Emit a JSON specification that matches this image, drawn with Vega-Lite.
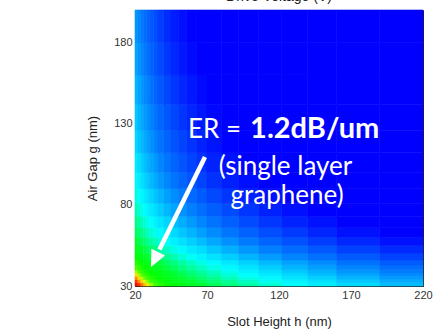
{
"$schema":"https://vega.github.io/schema/vega-lite/v6.json",
"width":288,"height":276,
"autosize":{"type":"none"},
"padding":{"left":135,"top":10,"right":11,"bottom":47},
"background":"white",
"title":{"text":"Drive Voltage (V)","font":"Liberation Sans","fontSize":14,"fontWeight":"normal","color":"#222","baseline":"alphabetic","offset":2,"dy":7},
"config":{"view":{"stroke":"#222","strokeWidth":1},
"axis":{"grid":false,"domain":false,"tickColor":"#222","tickSize":-4,"labelPadding":7,"labelFont":"Liberation Sans","labelFontSize":11,"labelColor":"#333","titleFont":"Liberation Sans","titleFontSize":13,"titleFontWeight":"normal","titleColor":"#222","labelFlush":false,"labelOverlap":false,"labelBound":false}},
"layer":[
{"data":{"values":[
{"h":20,"h2":22,"g":30,"g2":32,"v":9.41},{"h":22,"h2":24,"g":30,"g2":32,"v":8.92},{"h":24,"h2":26,"g":30,"g2":32,"v":8.49},{"h":26,"h2":28,"g":30,"g2":32,"v":8.11},{"h":28,"h2":30,"g":30,"g2":32,"v":7.77},{"h":30,"h2":33,"g":30,"g2":32,"v":7.41},{"h":33,"h2":36,"g":30,"g2":32,"v":7.02},{"h":36,"h2":40,"g":30,"g2":32,"v":6.63},{"h":40,"h2":45,"g":30,"g2":32,"v":6.20},{"h":45,"h2":50,"g":30,"g2":32,"v":5.81},{"h":50,"h2":56,"g":30,"g2":32,"v":5.45},{"h":56,"h2":63,"g":30,"g2":32,"v":5.09},{"h":63,"h2":70,"g":30,"g2":32,"v":4.76},{"h":70,"h2":80,"g":30,"g2":32,"v":4.43},{"h":80,"h2":92,"g":30,"g2":32,"v":4.09},{"h":92,"h2":106,"g":30,"g2":32,"v":3.77},{"h":106,"h2":122,"g":30,"g2":32,"v":3.47},{"h":122,"h2":140,"g":30,"g2":32,"v":3.19},{"h":140,"h2":160,"g":30,"g2":32,"v":2.95},{"h":160,"h2":190,"g":30,"g2":32,"v":2.69},{"h":190,"h2":220,"g":30,"g2":32,"v":2.45},
{"h":20,"h2":22,"g":32,"g2":34,"v":8.84},{"h":22,"h2":24,"g":32,"g2":34,"v":8.37},{"h":24,"h2":26,"g":32,"g2":34,"v":7.97},{"h":26,"h2":28,"g":32,"g2":34,"v":7.62},{"h":28,"h2":30,"g":32,"g2":34,"v":7.30},{"h":30,"h2":33,"g":32,"g2":34,"v":6.95},{"h":33,"h2":36,"g":32,"g2":34,"v":6.59},{"h":36,"h2":40,"g":32,"g2":34,"v":6.23},{"h":40,"h2":45,"g":32,"g2":34,"v":5.83},{"h":45,"h2":50,"g":32,"g2":34,"v":5.45},{"h":50,"h2":56,"g":32,"g2":34,"v":5.12},{"h":56,"h2":63,"g":32,"g2":34,"v":4.78},{"h":63,"h2":70,"g":32,"g2":34,"v":4.47},{"h":70,"h2":80,"g":32,"g2":34,"v":4.16},{"h":80,"h2":92,"g":32,"g2":34,"v":3.85},{"h":92,"h2":106,"g":32,"g2":34,"v":3.54},{"h":106,"h2":122,"g":32,"g2":34,"v":3.25},{"h":122,"h2":140,"g":32,"g2":34,"v":3.00},{"h":140,"h2":160,"g":32,"g2":34,"v":2.77},{"h":160,"h2":190,"g":32,"g2":34,"v":2.53},{"h":190,"h2":220,"g":32,"g2":34,"v":2.30},
{"h":20,"h2":22,"g":34,"g2":36,"v":8.33},{"h":22,"h2":24,"g":34,"g2":36,"v":7.89},{"h":24,"h2":26,"g":34,"g2":36,"v":7.52},{"h":26,"h2":28,"g":34,"g2":36,"v":7.18},{"h":28,"h2":30,"g":34,"g2":36,"v":6.88},{"h":30,"h2":33,"g":34,"g2":36,"v":6.56},{"h":33,"h2":36,"g":34,"g2":36,"v":6.21},{"h":36,"h2":40,"g":34,"g2":36,"v":5.87},{"h":40,"h2":45,"g":34,"g2":36,"v":5.49},{"h":45,"h2":50,"g":34,"g2":36,"v":5.14},{"h":50,"h2":56,"g":34,"g2":36,"v":4.82},{"h":56,"h2":63,"g":34,"g2":36,"v":4.51},{"h":63,"h2":70,"g":34,"g2":36,"v":4.22},{"h":70,"h2":80,"g":34,"g2":36,"v":3.93},{"h":80,"h2":92,"g":34,"g2":36,"v":3.63},{"h":92,"h2":106,"g":34,"g2":36,"v":3.33},{"h":106,"h2":122,"g":34,"g2":36,"v":3.07},{"h":122,"h2":140,"g":34,"g2":36,"v":2.83},{"h":140,"h2":160,"g":34,"g2":36,"v":2.61},{"h":160,"h2":190,"g":34,"g2":36,"v":2.38},{"h":190,"h2":220,"g":34,"g2":36,"v":2.17},
{"h":20,"h2":22,"g":36,"g2":38,"v":7.88},{"h":22,"h2":24,"g":36,"g2":38,"v":7.47},{"h":24,"h2":26,"g":36,"g2":38,"v":7.11},{"h":26,"h2":28,"g":36,"g2":38,"v":6.80},{"h":28,"h2":30,"g":36,"g2":38,"v":6.51},{"h":30,"h2":33,"g":36,"g2":38,"v":6.20},{"h":33,"h2":36,"g":36,"g2":38,"v":5.88},{"h":36,"h2":40,"g":36,"g2":38,"v":5.56},{"h":40,"h2":45,"g":36,"g2":38,"v":5.20},{"h":45,"h2":50,"g":36,"g2":38,"v":4.87},{"h":50,"h2":56,"g":36,"g2":38,"v":4.57},{"h":56,"h2":63,"g":36,"g2":38,"v":4.27},{"h":63,"h2":70,"g":36,"g2":38,"v":3.99},{"h":70,"h2":80,"g":36,"g2":38,"v":3.71},{"h":80,"h2":92,"g":36,"g2":38,"v":3.43},{"h":92,"h2":106,"g":36,"g2":38,"v":3.15},{"h":106,"h2":122,"g":36,"g2":38,"v":2.90},{"h":122,"h2":140,"g":36,"g2":38,"v":2.68},{"h":140,"h2":160,"g":36,"g2":38,"v":2.47},{"h":160,"h2":190,"g":36,"g2":38,"v":2.25},{"h":190,"h2":220,"g":36,"g2":38,"v":2.05},
{"h":20,"h2":22,"g":38,"g2":40,"v":7.47},{"h":22,"h2":24,"g":38,"g2":40,"v":7.08},{"h":24,"h2":26,"g":38,"g2":40,"v":6.74},{"h":26,"h2":28,"g":38,"g2":40,"v":6.44},{"h":28,"h2":30,"g":38,"g2":40,"v":6.18},{"h":30,"h2":33,"g":38,"g2":40,"v":5.88},{"h":33,"h2":36,"g":38,"g2":40,"v":5.58},{"h":36,"h2":40,"g":38,"g2":40,"v":5.27},{"h":40,"h2":45,"g":38,"g2":40,"v":4.93},{"h":45,"h2":50,"g":38,"g2":40,"v":4.61},{"h":50,"h2":56,"g":38,"g2":40,"v":4.33},{"h":56,"h2":63,"g":38,"g2":40,"v":4.04},{"h":63,"h2":70,"g":38,"g2":40,"v":3.78},{"h":70,"h2":80,"g":38,"g2":40,"v":3.52},{"h":80,"h2":92,"g":38,"g2":40,"v":3.25},{"h":92,"h2":106,"g":38,"g2":40,"v":2.99},{"h":106,"h2":122,"g":38,"g2":40,"v":2.75},{"h":122,"h2":140,"g":38,"g2":40,"v":2.54},{"h":140,"h2":160,"g":38,"g2":40,"v":2.35},{"h":160,"h2":190,"g":38,"g2":40,"v":2.14},{"h":190,"h2":220,"g":38,"g2":40,"v":1.95},
{"h":20,"h2":22,"g":40,"g2":43,"v":7.03},{"h":22,"h2":24,"g":40,"g2":43,"v":6.66},{"h":24,"h2":26,"g":40,"g2":43,"v":6.34},{"h":26,"h2":28,"g":40,"g2":43,"v":6.06},{"h":28,"h2":30,"g":40,"g2":43,"v":5.81},{"h":30,"h2":33,"g":40,"g2":43,"v":5.53},{"h":33,"h2":36,"g":40,"g2":43,"v":5.24},{"h":36,"h2":40,"g":40,"g2":43,"v":4.95},{"h":40,"h2":45,"g":40,"g2":43,"v":4.63},{"h":45,"h2":50,"g":40,"g2":43,"v":4.34},{"h":50,"h2":56,"g":40,"g2":43,"v":4.07},{"h":56,"h2":63,"g":40,"g2":43,"v":3.80},{"h":63,"h2":70,"g":40,"g2":43,"v":3.56},{"h":70,"h2":80,"g":40,"g2":43,"v":3.31},{"h":80,"h2":92,"g":40,"g2":43,"v":3.06},{"h":92,"h2":106,"g":40,"g2":43,"v":2.81},{"h":106,"h2":122,"g":40,"g2":43,"v":2.59},{"h":122,"h2":140,"g":40,"g2":43,"v":2.39},{"h":140,"h2":160,"g":40,"g2":43,"v":2.21},{"h":160,"h2":190,"g":40,"g2":43,"v":2.01},{"h":190,"h2":220,"g":40,"g2":43,"v":1.83},
{"h":20,"h2":22,"g":43,"g2":46,"v":6.55},{"h":22,"h2":24,"g":43,"g2":46,"v":6.21},{"h":24,"h2":26,"g":43,"g2":46,"v":5.91},{"h":26,"h2":28,"g":43,"g2":46,"v":5.65},{"h":28,"h2":30,"g":43,"g2":46,"v":5.41},{"h":30,"h2":33,"g":43,"g2":46,"v":5.16},{"h":33,"h2":36,"g":43,"g2":46,"v":4.89},{"h":36,"h2":40,"g":43,"g2":46,"v":4.62},{"h":40,"h2":45,"g":43,"g2":46,"v":4.32},{"h":45,"h2":50,"g":43,"g2":46,"v":4.04},{"h":50,"h2":56,"g":43,"g2":46,"v":3.79},{"h":56,"h2":63,"g":43,"g2":46,"v":3.55},{"h":63,"h2":70,"g":43,"g2":46,"v":3.32},{"h":70,"h2":80,"g":43,"g2":46,"v":3.09},{"h":80,"h2":92,"g":43,"g2":46,"v":2.85},{"h":92,"h2":106,"g":43,"g2":46,"v":2.62},{"h":106,"h2":122,"g":43,"g2":46,"v":2.41},{"h":122,"h2":140,"g":43,"g2":46,"v":2.22},{"h":140,"h2":160,"g":43,"g2":46,"v":2.06},{"h":160,"h2":190,"g":43,"g2":46,"v":1.87},{"h":190,"h2":220,"g":43,"g2":46,"v":1.71},
{"h":20,"h2":22,"g":46,"g2":50,"v":5.93},{"h":22,"h2":24,"g":46,"g2":50,"v":5.62},{"h":24,"h2":26,"g":46,"g2":50,"v":5.35},{"h":26,"h2":28,"g":46,"g2":50,"v":5.11},{"h":28,"h2":30,"g":46,"g2":50,"v":4.90},{"h":30,"h2":33,"g":46,"g2":50,"v":4.67},{"h":33,"h2":36,"g":46,"g2":50,"v":4.42},{"h":36,"h2":40,"g":46,"g2":50,"v":4.18},{"h":40,"h2":45,"g":46,"g2":50,"v":3.91},{"h":45,"h2":50,"g":46,"g2":50,"v":3.66},{"h":50,"h2":56,"g":46,"g2":50,"v":3.43},{"h":56,"h2":63,"g":46,"g2":50,"v":3.21},{"h":63,"h2":70,"g":46,"g2":50,"v":3.00},{"h":70,"h2":80,"g":46,"g2":50,"v":2.79},{"h":80,"h2":92,"g":46,"g2":50,"v":2.58},{"h":92,"h2":106,"g":46,"g2":50,"v":2.37},{"h":106,"h2":122,"g":46,"g2":50,"v":2.18},{"h":122,"h2":140,"g":46,"g2":50,"v":2.01},{"h":140,"h2":160,"g":46,"g2":50,"v":1.86},{"h":160,"h2":190,"g":46,"g2":50,"v":1.70},{"h":190,"h2":220,"g":46,"g2":50,"v":1.54},
{"h":20,"h2":22,"g":50,"g2":55,"v":5.35},{"h":22,"h2":24,"g":50,"g2":55,"v":5.07},{"h":24,"h2":26,"g":50,"g2":55,"v":4.82},{"h":26,"h2":28,"g":50,"g2":55,"v":4.61},{"h":28,"h2":30,"g":50,"g2":55,"v":4.42},{"h":30,"h2":33,"g":50,"g2":55,"v":4.21},{"h":33,"h2":36,"g":50,"g2":55,"v":3.99},{"h":36,"h2":40,"g":50,"g2":55,"v":3.77},{"h":40,"h2":45,"g":50,"g2":55,"v":3.53},{"h":45,"h2":50,"g":50,"g2":55,"v":3.30},{"h":50,"h2":56,"g":50,"g2":55,"v":3.10},{"h":56,"h2":63,"g":50,"g2":55,"v":2.89},{"h":63,"h2":70,"g":50,"g2":55,"v":2.71},{"h":70,"h2":80,"g":50,"g2":55,"v":2.52},{"h":80,"h2":92,"g":50,"g2":55,"v":2.33},{"h":92,"h2":106,"g":50,"g2":55,"v":2.14},{"h":106,"h2":122,"g":50,"g2":55,"v":1.97},{"h":122,"h2":140,"g":50,"g2":55,"v":1.82},{"h":140,"h2":160,"g":50,"g2":55,"v":1.68},{"h":160,"h2":190,"g":50,"g2":55,"v":1.53},{"h":190,"h2":220,"g":50,"g2":55,"v":1.39},
{"h":20,"h2":22,"g":55,"g2":60,"v":4.81},{"h":22,"h2":24,"g":55,"g2":60,"v":4.56},{"h":24,"h2":26,"g":55,"g2":60,"v":4.34},{"h":26,"h2":28,"g":55,"g2":60,"v":4.15},{"h":28,"h2":30,"g":55,"g2":60,"v":3.97},{"h":30,"h2":33,"g":55,"g2":60,"v":3.79},{"h":33,"h2":36,"g":55,"g2":60,"v":3.59},{"h":36,"h2":40,"g":55,"g2":60,"v":3.39},{"h":40,"h2":45,"g":55,"g2":60,"v":3.17},{"h":45,"h2":50,"g":55,"g2":60,"v":2.97},{"h":50,"h2":56,"g":55,"g2":60,"v":2.79},{"h":56,"h2":63,"g":55,"g2":60,"v":2.60},{"h":63,"h2":70,"g":55,"g2":60,"v":2.44},{"h":70,"h2":80,"g":55,"g2":60,"v":2.27},{"h":80,"h2":92,"g":55,"g2":60,"v":2.09},{"h":92,"h2":106,"g":55,"g2":60,"v":1.93},{"h":106,"h2":122,"g":55,"g2":60,"v":1.77},{"h":122,"h2":140,"g":55,"g2":60,"v":1.63},{"h":140,"h2":160,"g":55,"g2":60,"v":1.51},{"h":160,"h2":190,"g":55,"g2":60,"v":1.38},{"h":190,"h2":220,"g":55,"g2":60,"v":1.25},
{"h":20,"h2":22,"g":60,"g2":66,"v":4.37},{"h":22,"h2":24,"g":60,"g2":66,"v":4.14},{"h":24,"h2":26,"g":60,"g2":66,"v":3.95},{"h":26,"h2":28,"g":60,"g2":66,"v":3.77},{"h":28,"h2":30,"g":60,"g2":66,"v":3.61},{"h":30,"h2":33,"g":60,"g2":66,"v":3.44},{"h":33,"h2":36,"g":60,"g2":66,"v":3.26},{"h":36,"h2":40,"g":60,"g2":66,"v":3.08},{"h":40,"h2":45,"g":60,"g2":66,"v":2.88},{"h":45,"h2":50,"g":60,"g2":66,"v":2.70},{"h":50,"h2":56,"g":60,"g2":66,"v":2.53},{"h":56,"h2":63,"g":60,"g2":66,"v":2.37},{"h":63,"h2":70,"g":60,"g2":66,"v":2.21},{"h":70,"h2":80,"g":60,"g2":66,"v":2.06},{"h":80,"h2":92,"g":60,"g2":66,"v":1.90},{"h":92,"h2":106,"g":60,"g2":66,"v":1.75},{"h":106,"h2":122,"g":60,"g2":66,"v":1.61},{"h":122,"h2":140,"g":60,"g2":66,"v":1.49},{"h":140,"h2":160,"g":60,"g2":66,"v":1.37},{"h":160,"h2":190,"g":60,"g2":66,"v":1.25},{"h":190,"h2":220,"g":60,"g2":66,"v":1.14},
{"h":20,"h2":22,"g":66,"g2":73,"v":3.99},{"h":22,"h2":24,"g":66,"g2":73,"v":3.78},{"h":24,"h2":26,"g":66,"g2":73,"v":3.60},{"h":26,"h2":28,"g":66,"g2":73,"v":3.44},{"h":28,"h2":30,"g":66,"g2":73,"v":3.29},{"h":30,"h2":33,"g":66,"g2":73,"v":3.14},{"h":33,"h2":36,"g":66,"g2":73,"v":2.97},{"h":36,"h2":40,"g":66,"g2":73,"v":2.81},{"h":40,"h2":45,"g":66,"g2":73,"v":2.63},{"h":45,"h2":50,"g":66,"g2":73,"v":2.46},{"h":50,"h2":56,"g":66,"g2":73,"v":2.31},{"h":56,"h2":63,"g":66,"g2":73,"v":2.16},{"h":63,"h2":70,"g":66,"g2":73,"v":2.02},{"h":70,"h2":80,"g":66,"g2":73,"v":1.88},{"h":80,"h2":92,"g":66,"g2":73,"v":1.73},{"h":92,"h2":106,"g":66,"g2":73,"v":1.59},{"h":106,"h2":122,"g":66,"g2":73,"v":1.47},{"h":122,"h2":140,"g":66,"g2":73,"v":1.35},{"h":140,"h2":160,"g":66,"g2":73,"v":1.25},{"h":160,"h2":190,"g":66,"g2":73,"v":1.14},{"h":190,"h2":220,"g":66,"g2":73,"v":1.04},
{"h":20,"h2":22,"g":73,"g2":81,"v":3.65},{"h":22,"h2":24,"g":73,"g2":81,"v":3.45},{"h":24,"h2":26,"g":73,"g2":81,"v":3.29},{"h":26,"h2":28,"g":73,"g2":81,"v":3.14},{"h":28,"h2":30,"g":73,"g2":81,"v":3.01},{"h":30,"h2":33,"g":73,"g2":81,"v":2.87},{"h":33,"h2":36,"g":73,"g2":81,"v":2.72},{"h":36,"h2":40,"g":73,"g2":81,"v":2.57},{"h":40,"h2":45,"g":73,"g2":81,"v":2.40},{"h":45,"h2":50,"g":73,"g2":81,"v":2.25},{"h":50,"h2":56,"g":73,"g2":81,"v":2.11},{"h":56,"h2":63,"g":73,"g2":81,"v":1.97},{"h":63,"h2":70,"g":73,"g2":81,"v":1.85},{"h":70,"h2":80,"g":73,"g2":81,"v":1.72},{"h":80,"h2":92,"g":73,"g2":81,"v":1.59},{"h":92,"h2":106,"g":73,"g2":81,"v":1.46},{"h":106,"h2":122,"g":73,"g2":81,"v":1.34},{"h":122,"h2":140,"g":73,"g2":81,"v":1.24},{"h":140,"h2":160,"g":73,"g2":81,"v":1.14},{"h":160,"h2":190,"g":73,"g2":81,"v":1.04},{"h":190,"h2":220,"g":73,"g2":81,"v":0.95},
{"h":20,"h2":22,"g":81,"g2":90,"v":3.35},{"h":22,"h2":24,"g":81,"g2":90,"v":3.18},{"h":24,"h2":26,"g":81,"g2":90,"v":3.03},{"h":26,"h2":28,"g":81,"g2":90,"v":2.89},{"h":28,"h2":30,"g":81,"g2":90,"v":2.77},{"h":30,"h2":33,"g":81,"g2":90,"v":2.64},{"h":33,"h2":36,"g":81,"g2":90,"v":2.50},{"h":36,"h2":40,"g":81,"g2":90,"v":2.36},{"h":40,"h2":45,"g":81,"g2":90,"v":2.21},{"h":45,"h2":50,"g":81,"g2":90,"v":2.07},{"h":50,"h2":56,"g":81,"g2":90,"v":1.94},{"h":56,"h2":63,"g":81,"g2":90,"v":1.81},{"h":63,"h2":70,"g":81,"g2":90,"v":1.70},{"h":70,"h2":80,"g":81,"g2":90,"v":1.58},{"h":80,"h2":92,"g":81,"g2":90,"v":1.46},{"h":92,"h2":106,"g":81,"g2":90,"v":1.34},{"h":106,"h2":122,"g":81,"g2":90,"v":1.24},{"h":122,"h2":140,"g":81,"g2":90,"v":1.14},{"h":140,"h2":160,"g":81,"g2":90,"v":1.05},{"h":160,"h2":190,"g":81,"g2":90,"v":0.96},{"h":190,"h2":220,"g":81,"g2":90,"v":0.87},
{"h":20,"h2":22,"g":90,"g2":100,"v":3.06},{"h":22,"h2":24,"g":90,"g2":100,"v":2.90},{"h":24,"h2":26,"g":90,"g2":100,"v":2.76},{"h":26,"h2":28,"g":90,"g2":100,"v":2.64},{"h":28,"h2":30,"g":90,"g2":100,"v":2.53},{"h":30,"h2":33,"g":90,"g2":100,"v":2.41},{"h":33,"h2":36,"g":90,"g2":100,"v":2.28},{"h":36,"h2":40,"g":90,"g2":100,"v":2.16},{"h":40,"h2":45,"g":90,"g2":100,"v":2.02},{"h":45,"h2":50,"g":90,"g2":100,"v":1.89},{"h":50,"h2":56,"g":90,"g2":100,"v":1.77},{"h":56,"h2":63,"g":90,"g2":100,"v":1.66},{"h":63,"h2":70,"g":90,"g2":100,"v":1.55},{"h":70,"h2":80,"g":90,"g2":100,"v":1.44},{"h":80,"h2":92,"g":90,"g2":100,"v":1.33},{"h":92,"h2":106,"g":90,"g2":100,"v":1.23},{"h":106,"h2":122,"g":90,"g2":100,"v":1.13},{"h":122,"h2":140,"g":90,"g2":100,"v":1.04},{"h":140,"h2":160,"g":90,"g2":100,"v":0.96},{"h":160,"h2":190,"g":90,"g2":100,"v":0.88},{"h":190,"h2":220,"g":90,"g2":100,"v":0.80},
{"h":20,"h2":22,"g":100,"g2":112,"v":2.87},{"h":22,"h2":24,"g":100,"g2":112,"v":2.72},{"h":24,"h2":26,"g":100,"g2":112,"v":2.59},{"h":26,"h2":28,"g":100,"g2":112,"v":2.47},{"h":28,"h2":30,"g":100,"g2":112,"v":2.37},{"h":30,"h2":33,"g":100,"g2":112,"v":2.26},{"h":33,"h2":36,"g":100,"g2":112,"v":2.14},{"h":36,"h2":40,"g":100,"g2":112,"v":2.02},{"h":40,"h2":45,"g":100,"g2":112,"v":1.89},{"h":45,"h2":50,"g":100,"g2":112,"v":1.77},{"h":50,"h2":56,"g":100,"g2":112,"v":1.66},{"h":56,"h2":63,"g":100,"g2":112,"v":1.55},{"h":63,"h2":70,"g":100,"g2":112,"v":1.45},{"h":70,"h2":80,"g":100,"g2":112,"v":1.35},{"h":80,"h2":92,"g":100,"g2":112,"v":1.25},{"h":92,"h2":106,"g":100,"g2":112,"v":1.15},{"h":106,"h2":122,"g":100,"g2":112,"v":1.06},{"h":122,"h2":140,"g":100,"g2":112,"v":0.97},{"h":140,"h2":160,"g":100,"g2":112,"v":0.90},{"h":160,"h2":190,"g":100,"g2":112,"v":0.82},{"h":190,"h2":220,"g":100,"g2":112,"v":0.75},
{"h":20,"h2":22,"g":112,"g2":126,"v":2.67},{"h":22,"h2":24,"g":112,"g2":126,"v":2.53},{"h":24,"h2":26,"g":112,"g2":126,"v":2.41},{"h":26,"h2":28,"g":112,"g2":126,"v":2.30},{"h":28,"h2":30,"g":112,"g2":126,"v":2.21},{"h":30,"h2":33,"g":112,"g2":126,"v":2.10},{"h":33,"h2":36,"g":112,"g2":126,"v":1.99},{"h":36,"h2":40,"g":112,"g2":126,"v":1.88},{"h":40,"h2":45,"g":112,"g2":126,"v":1.76},{"h":45,"h2":50,"g":112,"g2":126,"v":1.65},{"h":50,"h2":56,"g":112,"g2":126,"v":1.55},{"h":56,"h2":63,"g":112,"g2":126,"v":1.45},{"h":63,"h2":70,"g":112,"g2":126,"v":1.35},{"h":70,"h2":80,"g":112,"g2":126,"v":1.26},{"h":80,"h2":92,"g":112,"g2":126,"v":1.16},{"h":92,"h2":106,"g":112,"g2":126,"v":1.07},{"h":106,"h2":122,"g":112,"g2":126,"v":0.98},{"h":122,"h2":140,"g":112,"g2":126,"v":0.91},{"h":140,"h2":160,"g":112,"g2":126,"v":0.84},{"h":160,"h2":190,"g":112,"g2":126,"v":0.76},{"h":190,"h2":220,"g":112,"g2":126,"v":0.70},
{"h":20,"h2":22,"g":126,"g2":142,"v":2.53},{"h":22,"h2":24,"g":126,"g2":142,"v":2.39},{"h":24,"h2":26,"g":126,"g2":142,"v":2.28},{"h":26,"h2":28,"g":126,"g2":142,"v":2.18},{"h":28,"h2":30,"g":126,"g2":142,"v":2.09},{"h":30,"h2":33,"g":126,"g2":142,"v":1.99},{"h":33,"h2":36,"g":126,"g2":142,"v":1.89},{"h":36,"h2":40,"g":126,"g2":142,"v":1.78},{"h":40,"h2":45,"g":126,"g2":142,"v":1.67},{"h":45,"h2":50,"g":126,"g2":142,"v":1.56},{"h":50,"h2":56,"g":126,"g2":142,"v":1.46},{"h":56,"h2":63,"g":126,"g2":142,"v":1.37},{"h":63,"h2":70,"g":126,"g2":142,"v":1.28},{"h":70,"h2":80,"g":126,"g2":142,"v":1.19},{"h":80,"h2":92,"g":126,"g2":142,"v":1.10},{"h":92,"h2":106,"g":126,"g2":142,"v":1.01},{"h":106,"h2":122,"g":126,"g2":142,"v":0.93},{"h":122,"h2":140,"g":126,"g2":142,"v":0.86},{"h":140,"h2":160,"g":126,"g2":142,"v":0.79},{"h":160,"h2":190,"g":126,"g2":142,"v":0.72},{"h":190,"h2":220,"g":126,"g2":142,"v":0.66},
{"h":20,"h2":22,"g":142,"g2":160,"v":2.38},{"h":22,"h2":24,"g":142,"g2":160,"v":2.26},{"h":24,"h2":26,"g":142,"g2":160,"v":2.15},{"h":26,"h2":28,"g":142,"g2":160,"v":2.05},{"h":28,"h2":30,"g":142,"g2":160,"v":1.97},{"h":30,"h2":33,"g":142,"g2":160,"v":1.87},{"h":33,"h2":36,"g":142,"g2":160,"v":1.78},{"h":36,"h2":40,"g":142,"g2":160,"v":1.68},{"h":40,"h2":45,"g":142,"g2":160,"v":1.57},{"h":45,"h2":50,"g":142,"g2":160,"v":1.47},{"h":50,"h2":56,"g":142,"g2":160,"v":1.38},{"h":56,"h2":63,"g":142,"g2":160,"v":1.29},{"h":63,"h2":70,"g":142,"g2":160,"v":1.21},{"h":70,"h2":80,"g":142,"g2":160,"v":1.12},{"h":80,"h2":92,"g":142,"g2":160,"v":1.04},{"h":92,"h2":106,"g":142,"g2":160,"v":0.95},{"h":106,"h2":122,"g":142,"g2":160,"v":0.88},{"h":122,"h2":140,"g":142,"g2":160,"v":0.81},{"h":140,"h2":160,"g":142,"g2":160,"v":0.75},{"h":160,"h2":190,"g":142,"g2":160,"v":0.68},{"h":190,"h2":220,"g":142,"g2":160,"v":0.62},
{"h":20,"h2":22,"g":160,"g2":180,"v":2.24},{"h":22,"h2":24,"g":160,"g2":180,"v":2.12},{"h":24,"h2":26,"g":160,"g2":180,"v":2.02},{"h":26,"h2":28,"g":160,"g2":180,"v":1.93},{"h":28,"h2":30,"g":160,"g2":180,"v":1.85},{"h":30,"h2":33,"g":160,"g2":180,"v":1.76},{"h":33,"h2":36,"g":160,"g2":180,"v":1.67},{"h":36,"h2":40,"g":160,"g2":180,"v":1.58},{"h":40,"h2":45,"g":160,"g2":180,"v":1.47},{"h":45,"h2":50,"g":160,"g2":180,"v":1.38},{"h":50,"h2":56,"g":160,"g2":180,"v":1.29},{"h":56,"h2":63,"g":160,"g2":180,"v":1.21},{"h":63,"h2":70,"g":160,"g2":180,"v":1.13},{"h":70,"h2":80,"g":160,"g2":180,"v":1.05},{"h":80,"h2":92,"g":160,"g2":180,"v":0.97},{"h":92,"h2":106,"g":160,"g2":180,"v":0.89},{"h":106,"h2":122,"g":160,"g2":180,"v":0.82},{"h":122,"h2":140,"g":160,"g2":180,"v":0.76},{"h":140,"h2":160,"g":160,"g2":180,"v":0.70},{"h":160,"h2":190,"g":160,"g2":180,"v":0.64},{"h":190,"h2":220,"g":160,"g2":180,"v":0.58},
{"h":20,"h2":22,"g":180,"g2":200,"v":2.14},{"h":22,"h2":24,"g":180,"g2":200,"v":2.03},{"h":24,"h2":26,"g":180,"g2":200,"v":1.93},{"h":26,"h2":28,"g":180,"g2":200,"v":1.84},{"h":28,"h2":30,"g":180,"g2":200,"v":1.77},{"h":30,"h2":33,"g":180,"g2":200,"v":1.68},{"h":33,"h2":36,"g":180,"g2":200,"v":1.60},{"h":36,"h2":40,"g":180,"g2":200,"v":1.51},{"h":40,"h2":45,"g":180,"g2":200,"v":1.41},{"h":45,"h2":50,"g":180,"g2":200,"v":1.32},{"h":50,"h2":56,"g":180,"g2":200,"v":1.24},{"h":56,"h2":63,"g":180,"g2":200,"v":1.16},{"h":63,"h2":70,"g":180,"g2":200,"v":1.08},{"h":70,"h2":80,"g":180,"g2":200,"v":1.01},{"h":80,"h2":92,"g":180,"g2":200,"v":0.93},{"h":92,"h2":106,"g":180,"g2":200,"v":0.86},{"h":106,"h2":122,"g":180,"g2":200,"v":0.79},{"h":122,"h2":140,"g":180,"g2":200,"v":0.73},{"h":140,"h2":160,"g":180,"g2":200,"v":0.67},{"h":160,"h2":190,"g":180,"g2":200,"v":0.61},{"h":190,"h2":220,"g":180,"g2":200,"v":0.56}
]},
"mark":{"type":"rect","strokeWidth":0.6},
"encoding":{
"x":{"field":"h","type":"quantitative","scale":{"domain":[20,220],"nice":false,"zero":false},"axis":{"title":"Slot Height h (nm)","values":[20,45,70,95,120,145,170,195,220],"labelExpr":"datum.value % 50 == 20 ? datum.label : ''","titleY":39,"titleBaseline":"alphabetic"}},
"x2":{"field":"h2"},
"y":{"field":"g","type":"quantitative","scale":{"domain":[30,200],"nice":false,"zero":false},"axis":{"title":"Air Gap g (nm)","values":[30,55,80,105,130,155,180],"labelExpr":"datum.value % 50 == 30 ? datum.label : ''","titleX":-39,"titleY":148,"titleBaseline":"alphabetic"}},
"y2":{"field":"g2"},
"fill":{"field":"v","type":"quantitative","legend":null,"scale":{"domain":[0,1.15,1.62,2.28,2.7,3.15,3.9,4.8,6.0,7.0,7.4,7.7,8.0,8.5,9.0,10],"range":["#0000ff","#0000ff","#0050ff","#00aaff","#00dcff","#00ffff","#00ff90","#00ff30","#00ff00","#40ff00","#90ff00","#e0ff00","#ffd000","#ff7000","#ff2000","#d00000"],"interpolate":"rgb","clamp":true}},
"stroke":{"field":"v","type":"quantitative","legend":null,"scale":{"domain":[0,1.15,1.62,2.28,2.7,3.15,3.9,4.8,6.0,7.0,7.4,7.7,8.0,8.5,9.0,10],"range":["#0000ff","#0000ff","#0050ff","#00aaff","#00dcff","#00ffff","#00ff90","#00ff30","#00ff00","#40ff00","#90ff00","#e0ff00","#ffd000","#ff7000","#ff2000","#d00000"],"interpolate":"rgb","clamp":true}}
}},
{"data":{"values":[{"h":68.6,"g":109.5,"h2":37.0,"g2":52.5}]},
"mark":{"type":"rule","color":"white","strokeWidth":4.5},
"encoding":{"x":{"field":"h","type":"quantitative"},"y":{"field":"g","type":"quantitative"},"x2":{"field":"h2"},"y2":{"field":"g2"}}},
{"data":{"values":[{"h":31.1,"g":41.7}]},
"mark":{"type":"point","shape":"M0,0L-0.46,-1L0.46,-1Z","filled":true,"color":"white","opacity":1,"size":1100,"angle":26,"strokeWidth":0},
"encoding":{"x":{"field":"h","type":"quantitative"},"y":{"field":"g","type":"quantitative"}}},
{"data":{"values":[{"h":93.6,"g":121.0,"t":"ER ="}]},
"mark":{"type":"text","font":"Lato","fontSize":26,"color":"white","align":"right","baseline":"alphabetic"},
"encoding":{"x":{"field":"h","type":"quantitative"},"y":{"field":"g","type":"quantitative"},"text":{"field":"t"}}},
{"data":{"values":[{"h":99.9,"g":121.0,"t":"1.2dB/um"}]},
"mark":{"type":"text","font":"Lato","fontSize":29,"fontWeight":"bold","color":"white","align":"left","baseline":"alphabetic"},
"encoding":{"x":{"field":"h","type":"quantitative"},"y":{"field":"g","type":"quantitative"},"text":{"field":"t"}}},
{"data":{"values":[{"h":124.5,"g":98.4,"t":"(single layer"},{"h":125.6,"g":80.5,"t":"graphene)"}]},
"mark":{"type":"text","font":"Lato","fontSize":26,"color":"white","align":"center","baseline":"alphabetic"},
"encoding":{"x":{"field":"h","type":"quantitative"},"y":{"field":"g","type":"quantitative"},"text":{"field":"t"}}}
]
}
